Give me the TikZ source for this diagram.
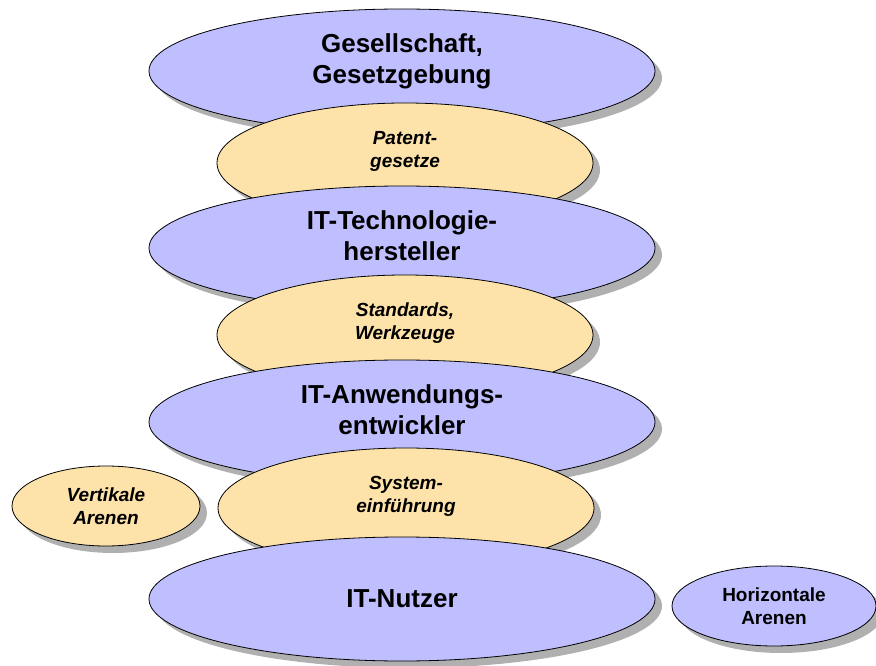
\documentclass[tikz,border=0pt]{standalone}
\usepackage{fontspec}
\setmainfont{Liberation Sans}
\usetikzlibrary{shapes.geometric,shadows}
\definecolor{arenablue}{RGB}{191,191,255}
\definecolor{arenatan}{RGB}{253,226,170}
\definecolor{shadowgray}{RGB}{176,176,176}
\begin{document}
\begin{tikzpicture}[x=1pt,y=-1pt,
  arena/.style={ellipse, draw=black, line width=0.8pt, inner sep=0pt, align=center,
    drop shadow={shadow xshift=7pt, shadow yshift=-7pt, fill=shadowgray, opacity=1}},
  actor/.style={arena, fill=arenablue, minimum width=506pt, minimum height=124pt,
    font=\fontsize{26}{31}\selectfont\bfseries},
  interface/.style={arena, fill=arenatan, minimum width=376pt, minimum height=120pt,
    font=\fontsize{19}{23}\selectfont\bfseries\itshape, text depth=28pt},
  twoline/.style={text depth=25pt},
  sidearena/.style={arena, minimum height=80pt, font=\fontsize{19}{23}\selectfont\bfseries},
]
\useasboundingbox (0,0) rectangle (876,666);

% stacked arenas, drawn top to bottom so each one overlaps the one above
\node[actor, twoline] (gesellschaft) at (402,71) {Gesellschaft,\\Gesetzgebung};
\node[interface] (patent) at (405,163) {Patent-\\gesetze};
\node[actor, twoline] (hersteller) at (402,248) {IT-Technologie-\\hersteller};
\node[interface] (standards) at (405,335) {Standards,\\Werkzeuge};
\node[actor, twoline] (entwickler) at (402,422) {IT-Anwendungs-\\entwickler};
\node[interface] (einfuehrung) at (406,508) {System-\\einführung};
\node[actor] (nutzer) at (402,599) {IT-Nutzer};

% legend arenas
\node[sidearena, fill=arenatan, minimum width=188pt, font=\fontsize{19}{23}\selectfont\bfseries\itshape]
  (vertikal) at (106,506) {Vertikale\\Arenen};
\node[sidearena, fill=arenablue, minimum width=204pt] (horizontal) at (774,606) {Horizontale\\Arenen};
\end{tikzpicture}
\end{document}
